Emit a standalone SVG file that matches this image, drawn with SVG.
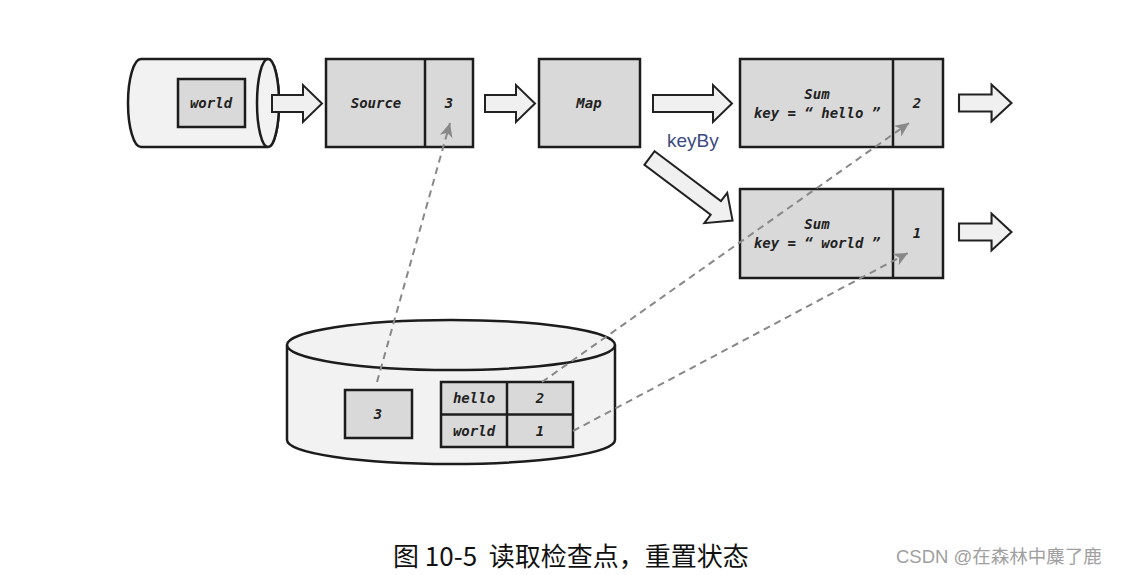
<svg xmlns="http://www.w3.org/2000/svg" width="1122" height="575" viewBox="0 0 1122 575">
<style>
.box{fill:#d9d9d9;stroke:#1c1c1c;stroke-width:2.5}
.cyl{fill:#f2f2f2;stroke:#1c1c1c;stroke-width:2.5}
.arr{fill:#f0f0f0;stroke:#222;stroke-width:2;stroke-linejoin:miter}
.t{font-family:"DejaVu Sans Mono","Liberation Mono",monospace;font-style:italic;font-weight:bold;font-size:14px;fill:#222;text-anchor:middle}
.dash{fill:none;stroke:#888;stroke-width:2;stroke-dasharray:7 5}
</style>
<defs>
<marker id="ah" markerUnits="userSpaceOnUse" viewBox="-15 -8 16 16" refX="0" refY="0" markerWidth="16" markerHeight="16" orient="auto">
<path d="M0,0 L-14,-6.5 L-10,0 L-14,6.5 Z" fill="#888"/>
</marker>
<polygon id="harrow" points="0,-8.5 31,-8.5 31,-18.5 50,0 31,18.5 31,8.5 0,8.5"/>
</defs>
<rect width="1122" height="575" fill="#fff"/>

<g id="input-cylinder">
<path class="cyl" d="M141,59 L268,59 A11,44 0 0 1 268,147 L141,147 A13,44 0 0 1 141,59 Z"/>
<ellipse class="cyl" cx="268" cy="103" rx="11" ry="44"/>
<rect class="box" x="178" y="79" width="67" height="48"/>
<text class="t" x="211" y="108">world</text>
</g>

<g id="source">
<rect class="box" x="326" y="59" width="147" height="88"/>
<line x1="425" y1="59" x2="425" y2="147" stroke="#1c1c1c" stroke-width="2.5"/>
<text class="t" x="376" y="108">Source</text>
<text class="t" x="449" y="108">3</text>
</g>

<g id="map">
<rect class="box" x="539" y="59" width="101" height="88"/>
<text class="t" x="589" y="108">Map</text>
</g>

<g id="sum-hello">
<rect class="box" x="740" y="59" width="203" height="88"/>
<line x1="893" y1="59" x2="893" y2="147" stroke="#1c1c1c" stroke-width="2.5"/>
<text class="t" x="817" y="99">Sum</text>
<text class="t" x="817" y="118">key = “ hello ”</text>
<text class="t" x="917" y="108">2</text>
</g>

<g id="sum-world">
<rect class="box" x="740" y="189" width="203" height="89"/>
<line x1="893" y1="189" x2="893" y2="278" stroke="#1c1c1c" stroke-width="2.5"/>
<text class="t" x="817" y="229">Sum</text>
<text class="t" x="817" y="248">key = “ world ”</text>
<text class="t" x="917" y="238">1</text>
</g>

<g id="state-cylinder">
<path class="cyl" d="M287,345 L287,440 A164,24 0 0 0 615,440 L615,345"/>
<ellipse class="cyl" cx="451" cy="345" rx="164" ry="25"/>
<rect class="box" x="345" y="390" width="67" height="48"/>
<text class="t" x="378" y="419">3</text>
<rect class="box" x="441" y="382" width="132" height="65"/>
<line x1="507" y1="382" x2="507" y2="447" stroke="#1c1c1c" stroke-width="2.5"/>
<line x1="441" y1="414.5" x2="573" y2="414.5" stroke="#1c1c1c" stroke-width="2.5"/>
<text class="t" x="474" y="403">hello</text>
<text class="t" x="540" y="403">2</text>
<text class="t" x="474" y="436">world</text>
<text class="t" x="540" y="436">1</text>
</g>

<g id="connectors">
<use href="#harrow" class="arr" transform="translate(272,103.5)"/>
<use href="#harrow" class="arr" transform="translate(485,103.5)"/>
<polygon class="arr" points="653,95 713,95 713,85 732,103.5 713,122 713,112 653,112"/>
<use href="#harrow" class="arr" transform="translate(959,103) scale(1.05,1)"/>
<use href="#harrow" class="arr" transform="translate(959,232) scale(1.05,1)"/>
<polygon class="arr" transform="translate(649.5,158) rotate(37)" points="0,-8.5 83,-8.5 83,-19 104,0 83,19 83,8.5 0,8.5"/>
<text x="667" y="147" font-family="'Liberation Sans',Arial,sans-serif" font-size="19" fill="#3b4a80">keyBy</text>
<line class="dash" x1="377" y1="382" x2="450" y2="123" marker-end="url(#ah)"/>
<line class="dash" x1="542" y1="382" x2="909" y2="123" marker-end="url(#ah)"/>
<line class="dash" x1="573" y1="431" x2="908" y2="253" marker-end="url(#ah)"/>
</g>

<g id="caption">
<text x="393" y="566" xml:space="preserve" font-family="'Noto Sans CJK SC','Noto Sans',sans-serif" font-size="26" fill="#111">图 10-5  读取检查点，重置状态</text>
<text x="896" y="563" font-family="'Liberation Sans','Noto Sans CJK SC',sans-serif" font-size="18.5" fill="#a0a0a0">CSDN @在森林中麋了鹿</text>
</g>
</svg>
